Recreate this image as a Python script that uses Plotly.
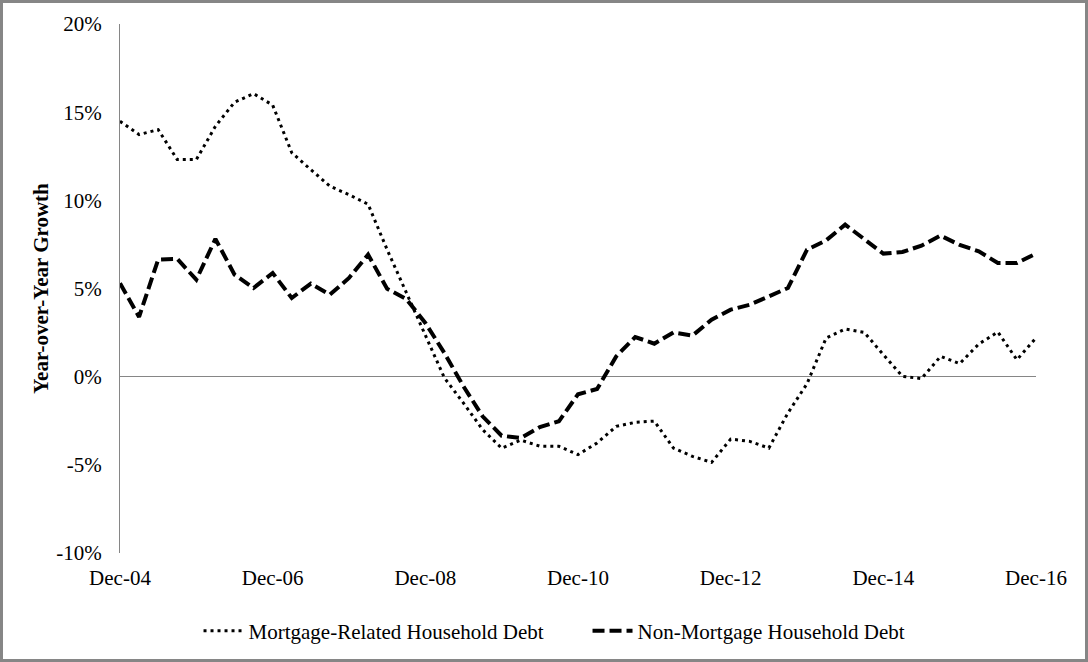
import plotly.graph_objects as go

# Quarterly categories Dec-04 .. Dec-16
months = ["Mar", "Jun", "Sep", "Dec"]
quarters = ["Dec-04"]
for yr in range(5, 17):
    for m in months:
        quarters.append(f"{m}-{yr:02d}")

tick_labels = ["Dec-04", "Dec-06", "Dec-08", "Dec-10", "Dec-12", "Dec-14", "Dec-16"]
y_ticks = [-10, -5, 0, 5, 10, 15, 20]
y_tick_text = ["-10%", "-5%", "0%", "5%", "10%", "15%", "20%"]

mortgage = [14.48, 13.73, 14.01, 12.31, 12.31, 14.2, 15.56, 16.05, 15.4, 12.7, 11.74, 10.8, 10.32,
            9.78, 7.2, 4.8, 2.4, -0.07, -1.5, -3.0, -4.06, -3.6, -3.94, -3.95, -4.42,
            -3.76, -2.82, -2.59, -2.52, -4.05, -4.52, -4.86, -3.54, -3.67, -4.05, -2.06, -0.4,
            2.19, 2.7, 2.51, 1.25, 0.02, -0.11, 1.15, 0.74, 1.85, 2.53, 0.96, 2.19]

non_mortgage = [5.3, 3.39, 6.64, 6.68, 5.5, 7.81, 5.79, 5.03, 5.88, 4.46, 5.28, 4.65, 5.6,
                6.92, 4.98, 4.41, 3.05, 1.34, -0.55, -2.25, -3.35, -3.48, -2.86, -2.53, -1.0,
                -0.7, 1.15, 2.25, 1.87, 2.51, 2.33, 3.23, 3.8, 4.08, 4.55, 5.03, 7.2,
                7.73, 8.62, 7.77, 6.98, 7.07, 7.43, 8.0, 7.47, 7.11, 6.45, 6.45, 6.98]

W, H = 1088, 662
L, R, T, B = 120, 52, 24, 109
pw, ph = W - L - R, H - T - B
FONT = "Liberation Serif, Times New Roman, serif"
GRAY = "#868686"

fig = go.Figure()
fig.add_trace(go.Scatter(x=quarters, y=mortgage, mode="lines",
                         name="Mortgage-Related Household Debt",
                         line=dict(color="black", width=3, dash="3px,4px")))
fig.add_trace(go.Scatter(x=quarters, y=non_mortgage, mode="lines",
                         name="Non-Mortgage Household Debt",
                         line=dict(color="black", width=4, dash="12px,5px")))

fig.update_layout(
    width=W, height=H,
    margin=dict(l=L, r=R, t=T, b=B, autoexpand=False),
    paper_bgcolor="white", plot_bgcolor="white",
    font=dict(family=FONT, size=21, color="black"),
    showlegend=True,
    legend=dict(orientation="h", xref="container", yref="container",
                x=0.54, xanchor="center", y=1 - 631 / H, yanchor="middle",
                font=dict(size=21), itemwidth=40, traceorder="normal",
                entrywidth=334),
    xaxis=dict(type="category", range=[0, len(quarters) - 1],
               tickvals=tick_labels, ticktext=tick_labels,
               showline=False, showgrid=False, zeroline=False,
               ticks="", ticklabelstandoff=10, tickfont=dict(size=21)),
    yaxis=dict(range=[-10, 20], tickvals=y_ticks, ticktext=y_tick_text,
               showgrid=False,
               showline=True, linecolor=GRAY, linewidth=1,
               zeroline=True, zerolinecolor=GRAY, zerolinewidth=1,
               ticks="", ticklabelstandoff=13, tickfont=dict(size=21),
               title=dict(text="<b>Year-over-Year Growth</b>", standoff=1,
                          font=dict(size=21))),
    shapes=[dict(type="rect", xref="paper", yref="paper",
                 x0=(1.5 - L) / pw, x1=(W - 1.5 - L) / pw,
                 y0=(H - B - (H - 1.5)) / ph, y1=(H - B - 1.5) / ph,
                 line=dict(color=GRAY, width=3), layer="above")],
)

fig.write_html("out.html", config={"displayModeBar": False},
               post_script="document.body.style.margin='0';")
